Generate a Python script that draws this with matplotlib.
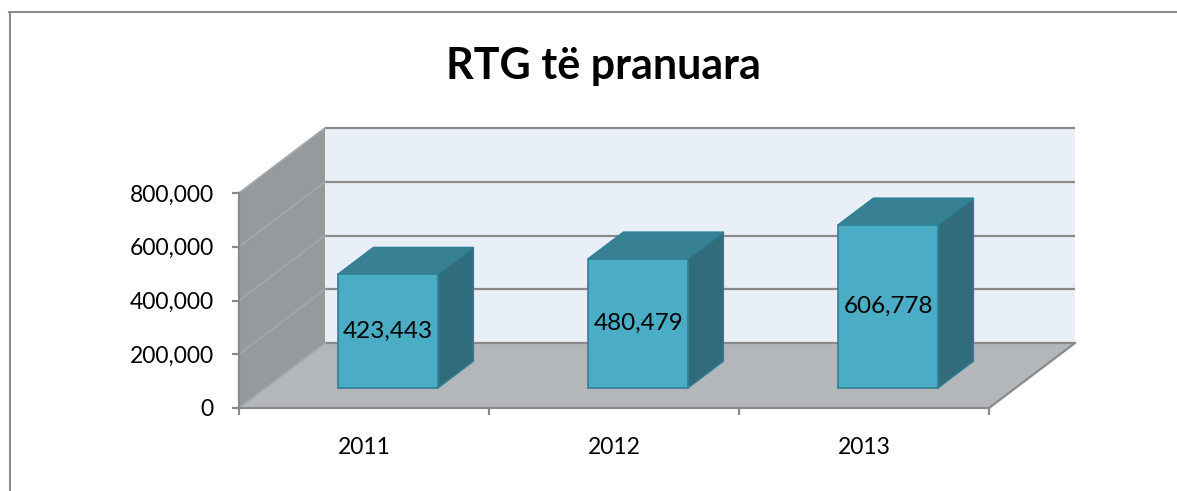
import matplotlib
matplotlib.use("Agg")
import matplotlib.pyplot as plt
from matplotlib.patches import Polygon
from matplotlib.lines import Line2D

# data
years = ["2011", "2012", "2013"]
values = [423443, 480479, 606778]
yticks = [0, 200000, 400000, 600000, 800000]
title = "RTG të pranuara"

W, H = 1177, 491
plt.rcParams["font.family"] = ["Lato", "DejaVu Sans"]
fig = plt.figure(figsize=(W / 100, H / 100), dpi=100)

# axes = front plane of the fake 3d box
ax = fig.add_axes([239 / W, (H - 408) / H, 750 / W, 215 / H])
n = len(years)
ymax = yticks[-1]
ax.set_xlim(0, n)
ax.set_ylim(0, ymax)
ax.patch.set_visible(False)

# offset of one unit of depth, in data units
DX = 86 / 250
DY = 65 * ymax / 215


def proj(x, y, z):
    return (x + z * DX, y + z * DY)


def face(pts, color, z, ec="none", lw=0):
    p = Polygon([proj(*q) for q in pts], closed=True, fc=color, ec=ec, lw=lw,
                zorder=z, clip_on=False, joinstyle="miter")
    ax.add_patch(p)


grid_c = "#8a8a8a"
# walls and floor
face([(0, 0, 1), (n, 0, 1), (n, ymax, 1), (0, ymax, 1)], "#e9eff7", 0.1)
face([(0, 0, 0), (0, 0, 1), (0, ymax, 1), (0, ymax, 0)], "#959a9d", 0.2)
face([(0, 0, 0), (n, 0, 0), (n, 0, 1), (0, 0, 1)], "#b3b7ba", 0.3)

for v in yticks:
    x0, y0 = proj(0, v, 1)
    x1, y1 = proj(n, v, 1)
    ax.plot([x0, x1], [y0, y1], color=grid_c, lw=1.6, zorder=0.4, clip_on=False,
            solid_capstyle="butt")
    xs, ys = proj(0, v, 0)
    ax.plot([xs, x0], [ys, y0], color="#a3a7a9", lw=1.3, zorder=0.4, clip_on=False)
# floor right edge
xa, ya = proj(n, 0, 0)
xb, yb = proj(n, 0, 1)
ax.plot([xa, xb], [ya, yb], color=grid_c, lw=1.6, zorder=0.4, clip_on=False)

# bars
z0, z1 = 0.31, 0.72
hw = 0.2
edge = "#2f8095"
for i, v in enumerate(values):
    c = i + 0.49
    xl, xr = c - hw, c + hw
    face([(xr, 0, z0), (xr, 0, z1), (xr, v, z1), (xr, v, z0)], "#316c7c", 1.0, edge, 1.0)
    face([(xl, v, z0), (xr, v, z0), (xr, v, z1), (xl, v, z1)], "#388194", 1.1, edge, 1.0)
    face([(xl, 0, z0), (xr, 0, z0), (xr, v, z0), (xl, v, z0)], "#4bacc6", 1.2, edge, 1.2)
    cx, cy = proj(c, v / 2, z0)
    ax.text(cx, cy, f"{v:,}", ha="center", va="center", fontsize=17.5, color="black",
            zorder=3)

# axes styling
for s in ["top", "right"]:
    ax.spines[s].set_visible(False)
for s in ["left", "bottom"]:
    ax.spines[s].set_color(grid_c)
    ax.spines[s].set_linewidth(1.6)
    ax.spines[s].set_zorder(0.5)

ax.set_yticks(yticks)
ax.set_yticklabels([f"{v:,}" for v in yticks])
ax.tick_params(axis="y", length=5, width=1.6, color=grid_c, pad=13, labelsize=16.5)
ax.set_xticks(range(n + 1))
ax.set_xticklabels([])
ax.set_xticks([i + 0.5 for i in range(n)], minor=True)
ax.set_xticklabels(years, minor=True)
ax.tick_params(axis="x", which="major", length=5, width=1.6, color=grid_c)
ax.tick_params(axis="x", which="minor", length=0, pad=21, labelsize=16.5)

fig.text(603 / W, 1 - 66 / H, title, ha="center", va="center", fontsize=31,
         fontweight="bold")

# chart border (only top and left visible)
fig.add_artist(Line2D([9 / W, 1], [1 - 12 / H, 1 - 12 / H], transform=fig.transFigure,
                      color="#8c8c8c", lw=1.5))
fig.add_artist(Line2D([10 / W, 10 / W], [0, 1 - 12 / H], transform=fig.transFigure,
                      color="#8c8c8c", lw=1.5))

fig.savefig("out.png", dpi=100)
